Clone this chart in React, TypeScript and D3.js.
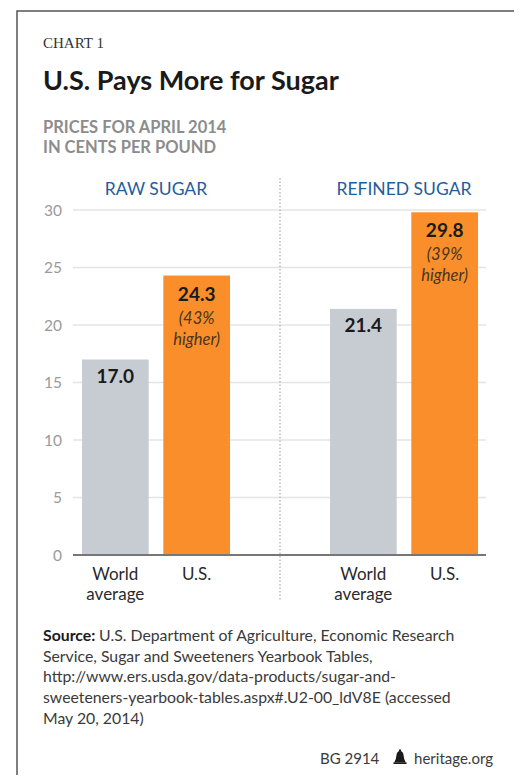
import React from "react";
import * as d3 from "d3";

const groups = ["RAW SUGAR", "REFINED SUGAR"];
const barKeys = ["World average", "U.S."];
const barLabels = [["World", "average"], ["U.S."]];
const worldValues = [17.0, 21.4];
const usValues = [24.3, 29.8];
const pctHigher = ["43%", "39%"];
const yTicks = [0, 5, 10, 15, 20, 25, 30];
const sourceLines = [
  "U.S. Department of Agriculture, Economic Research",
  "Service, Sugar and Sweeteners Yearbook Tables,",
  "http://www.ers.usda.gov/data-products/sugar-and-",
  "sweeteners-yearbook-tables.aspx#.U2-00_ldV8E (accessed",
  "May 20, 2014)",
];

const W = 522;
const H = 783;
const SANS = "Lato, 'Open Sans', sans-serif";

export default function App() {
  const y = d3.scaleLinear().domain([0, 30]).range([555, 210]);
  const gx = d3.scaleBand<string>().domain(groups).range([32, 528]).padding(0);
  const bx = d3.scaleBand<string>().domain(barKeys).range([50, 198]).paddingInner(0.18).paddingOuter(0);
  const gridX0 = 73;
  const gridX1 = 486;
  const divX = (gx(groups[1]) as number);

  const data = groups.map((g, i) => ({ g, values: [worldValues[i], usValues[i]], pct: pctHigher[i] }));
  const colors = ["#c7ccd2", "#f98e2a"];

  return (
    <div style={{ margin: -8 }}>
      <svg width={W} height={H} style={{ display: "block", background: "#fff" }}>
        <rect x={17} y={11} width={500} height={790} fill="#fff" stroke="#555" strokeWidth={1.5} />
        <text x={43} y={48} fontFamily="'Liberation Serif', 'DejaVu Serif', serif" fontSize={15} fill="#333">CHART 1</text>
        <text x={43} y={90} fontFamily={SANS} fontWeight={700} fontSize={27} fill="#1a1a1a">U.S. Pays More for Sugar</text>
        <text fontFamily={SANS} fontWeight={700} fontSize={16.5} fill="#8c8c8c">
          <tspan x={43} y={133}>PRICES FOR APRIL 2014</tspan>
          <tspan x={43} y={153}>IN CENTS PER POUND</tspan>
        </text>

        {/* gridlines */}
        {yTicks.filter((t) => t > 0).map((t) => (
          <line key={t} x1={gridX0} x2={gridX1} y1={y(t)} y2={y(t)} stroke="#e4e4e4" strokeWidth={1.5} />
        ))}
        {yTicks.map((t) => (
          <text key={"l" + t} x={62} y={y(t) + 5.5} textAnchor="end" fontFamily={SANS} fontSize={15.5} fill="#9a9a9a">{t}</text>
        ))}

        {/* divider */}
        <line x1={divX} x2={divX} y1={178} y2={600} stroke="#9a9a9a" strokeWidth={1} strokeDasharray="1.5,2" />

        {data.map((d, i) => {
          const g0 = gx(d.g) as number;
          const cx = g0 + gx.bandwidth() / 2;
          return (
            <g key={d.g}>
              <text x={cx} y={195} textAnchor="middle" fontFamily={SANS} fontSize={17.5} fill="#1f5d9c">{d.g}</text>
              {d.values.map((v, j) => {
                const x0 = g0 + (bx(barKeys[j]) as number);
                const bw = bx.bandwidth();
                const top = y(v);
                const mid = x0 + bw / 2;
                return (
                  <g key={j}>
                    <rect x={x0} y={top} width={bw} height={y(0) - top} fill={colors[j]} />
                    <text x={mid} y={top + (j === 0 ? 23 : 25)} textAnchor="middle" fontFamily={SANS} fontWeight={700} fontSize={19} fill="#1a1a1a">{v.toFixed(1)}</text>
                    {j === 1 && (
                      <text textAnchor="middle" fontFamily={SANS} fontStyle="italic" fontSize={16.5} fill="#4a3520">
                        <tspan x={mid} y={top + 48}>({d.pct}</tspan>
                        <tspan x={mid} y={top + 69}>higher)</tspan>
                      </text>
                    )}
                    <text textAnchor="middle" fontFamily={SANS} fontSize={17} fill="#2a2a2a">
                      {barLabels[j].map((l, k) => (
                        <tspan key={k} x={mid} y={580 + k * 20}>{l}</tspan>
                      ))}
                    </text>
                  </g>
                );
              })}
            </g>
          );
        })}

        {/* zero axis */}
        <line x1={gridX0} x2={gridX1} y1={y(0)} y2={y(0)} stroke="#777" strokeWidth={2} />

        {/* source */}
        <text fontFamily={SANS} fontSize={15.8} fill="#3a3a3a">
          {sourceLines.map((l, i) => (
            <tspan key={i} x={43} y={641 + i * 20.7}>
              {i === 0 && <tspan fontWeight={700} fill="#1a1a1a">Source: </tspan>}
              {l}
            </tspan>
          ))}
        </text>

        {/* footer */}
        <g fontFamily={SANS} fontSize={15} fill="#3a3a3a">
          <text x={320} y={764}>BG 2914</text>
          <g transform="translate(393,750)">
            <path d="M1.5,12 Q3,10 3.5,5 Q4,1 7,1 Q10,1 10.5,5 Q11,10 12.5,12 Z" fill="#1a1a1a" />
            <rect x={6} y={-0.5} width={2} height={2} fill="#1a1a1a" />
            <rect x={0.5} y={12.2} width={13} height={1.8} fill="#1a1a1a" />
          </g>
          <text x={493} y={764} textAnchor="end">heritage.org</text>
        </g>
      </svg>
    </div>
  );
}
